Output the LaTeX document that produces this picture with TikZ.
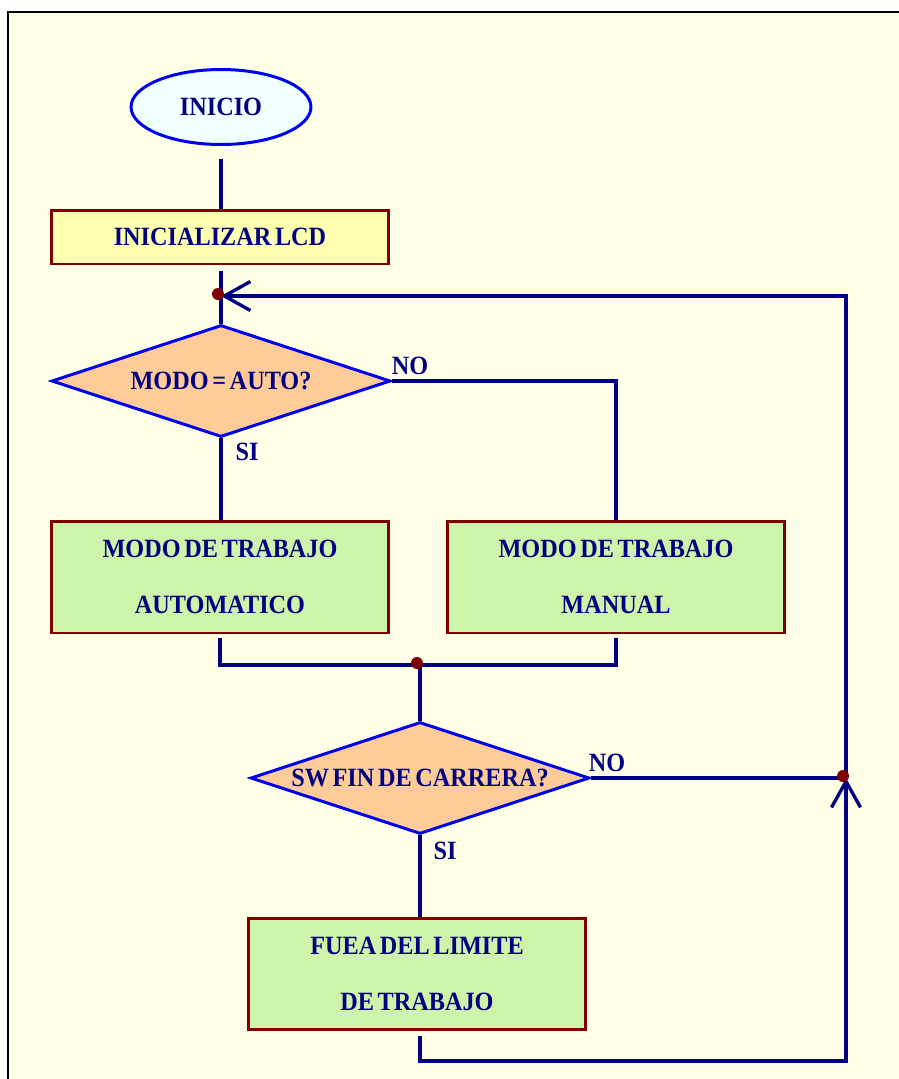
\documentclass[tikz,border=0pt]{standalone}
\usepackage{fontspec}
\setmainfont{Liberation Serif}
\newfontfamily\chartfont[FakeStretch=0.92,WordSpace=0.6]{Liberation Serif}
\usetikzlibrary{shapes.geometric,arrows.meta}

\definecolor{paper}{HTML}{FFFFE8}
\definecolor{navy}{HTML}{000080}
\definecolor{edgeblue}{HTML}{0000F0}
\definecolor{maroon}{HTML}{800000}
\definecolor{startfill}{HTML}{F0FFFF}
\definecolor{lcdfill}{HTML}{FFFFB0}
\definecolor{taskfill}{HTML}{CCF5AA}
\definecolor{askfill}{HTML}{FFCC99}

\tikzset{
  txt/.style={font={\chartfont\bfseries\fontsize{15}{31.7}\selectfont}, text=navy, align=center},
  start/.style={txt, ellipse, draw=edgeblue, fill=startfill, line width=1.7pt,
    minimum width=3.6cm, minimum height=1.5cm, inner sep=0pt},
  task/.style={txt, rectangle, draw=maroon, line width=1.7pt, minimum width=6.76cm, inner sep=0pt},
  ask/.style={txt, diamond, draw=edgeblue, fill=askfill, line width=1.7pt, shape aspect=3,
    minimum width=6.78cm, minimum height=2.24cm, inner sep=0pt},
  flow/.style={draw=navy, line width=1.9pt},
  back/.style={flow, -{Straight Barb[length=0.52cm, width=0.58cm]}},
  dot/.style={fill=maroon}
}

\begin{document}
\begin{tikzpicture}[x=0.02cm, y=-0.02cm]
\useasboundingbox (0,0) rectangle (899,1079);
\clip (0,0) rectangle (899,1079);
\fill[white] (0,0) rectangle (899,1079);
\filldraw[fill=paper, draw=black, line width=1.2pt] (8,12) rectangle (910,1090);

% shapes
\node[start] (inicio) at (221,107) {INICIO};
\node[task, fill=lcdfill, minimum height=1.08cm] (lcd) at (220,237) {INICIALIZAR LCD};
\coordinate (j1) at (221,296);
\node[ask] (auto) at (221,381) {MODO = AUTO?};
\node[task, fill=taskfill, minimum height=2.24cm] (autom) at (220,577) {MODO DE TRABAJO\\AUTOMATICO};
\node[task, fill=taskfill, minimum height=2.24cm] (manual) at (616,577) {MODO DE TRABAJO\\MANUAL};
\coordinate (j2) at (420,665);
\node[ask] (fin) at (420,778) {SW FIN DE CARRERA?};
\node[task, fill=taskfill, minimum height=2.22cm] (fuera) at (417,974) {FUEA DEL LIMITE\\DE TRABAJO};
\coordinate (j3) at (846,778);
\coordinate (j4) at (846,1061);

% answers
\node[txt] (no1) at (410,366) {NO};
\node[txt] (si1) at (247,452) {SI};
\node[txt] (no2) at (607,763) {NO};
\node[txt] (si2) at (445,851) {SI};

% connectors
\draw[flow, shorten <=0.26cm] (inicio.south) -- (inicio.south |- lcd.north);
\draw[flow, shorten <=0.12cm] (auto.north |- lcd.south) -- (auto.north);
\draw[back] (j3) |- (j1);
\draw[flow] (auto.east) -| (manual.north);
\draw[flow] (auto.south) -- (auto.south |- autom.north);
\draw[flow, shorten <=0.08cm, shorten >=0.08cm] (autom.south) |- (j2) -| (manual.south);
\draw[flow] (j2) -- (fin.north);
\draw[flow] (fin.east) -- (j3);
\draw[flow] (fin.south) -- (fin.south |- fuera.north);
\draw[back, shorten <=0.1cm] (fin.south |- fuera.south) |- (j4) -- (j3);

% junctions
\fill[dot] (j1) ++(-3,-2) circle (0.12cm);
\fill[dot] (j2) ++(-3,-2) circle (0.12cm);
\fill[dot] (j3) ++(-3,-2) circle (0.12cm);
\end{tikzpicture}
\end{document}
